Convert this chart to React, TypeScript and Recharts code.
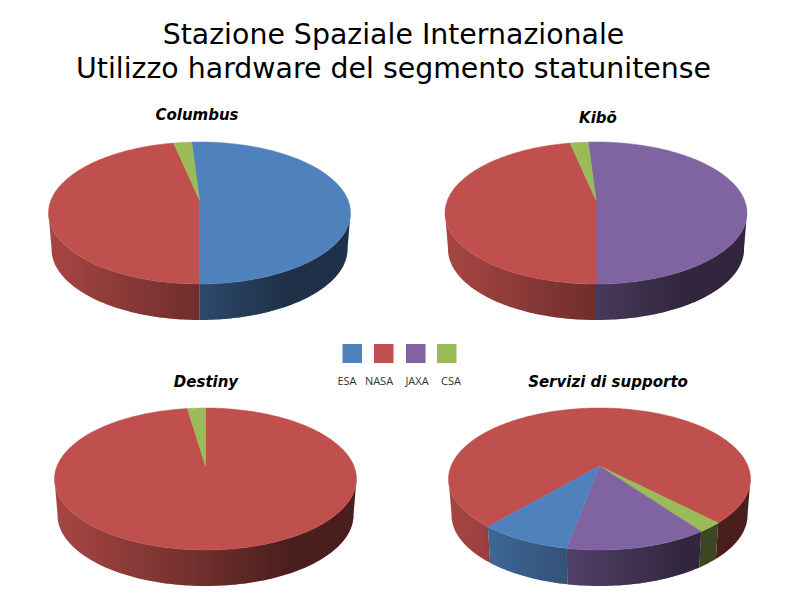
import React from "react"
import { PieChart, Pie, Cell } from "recharts"

const TITLE = ["Stazione Spaziale Internazionale", "Utilizzo hardware del segmento statunitense"]
const AGENCIES = ["ESA", "NASA", "JAXA", "CSA"]
const COLORS: Record<string, string> = {
    ESA: "#4F81BD",
    NASA: "#C0504D",
    JAXA: "#8064A2",
    CSA: "#9BBB59",
}

// percentuali
const columbus = [
    { name: "ESA", value: 51 },
    { name: "NASA", value: 46.7 },
    { name: "CSA", value: 2.3 },
]
const kibo = [
    { name: "JAXA", value: 51 },
    { name: "NASA", value: 46.7 },
    { name: "CSA", value: 2.3 },
]
const destiny = [
    { name: "NASA", value: 97.7 },
    { name: "CSA", value: 2.3 },
]
const servizi = [
    { name: "NASA", value: 76.6 },
    { name: "CSA", value: 2.3 },
    { name: "JAXA", value: 12.8 },
    { name: "ESA", value: 8.3 },
]

const PANELS = [
    { title: "Columbus", data: columbus, cx: 199.5, cy: 213, first: -3.6, tx: 197, ty: 120 },
    { title: "Kibō", data: kibo, cx: 596, cy: 213, first: -3.6, tx: 598, ty: 123 },
    { title: "Destiny", data: destiny, cx: 205.5, cy: 479, first: 0, tx: 206, ty: 387 },
    { title: "Servizi di supporto", data: servizi, cx: 599.5, cy: 479, first: 220.3, tx: 608, ty: 387 },
]

const RX = 151
const RY = 71
const RX_BOTTOM = 148
const DEPTH = 36
// the pie is drawn in perspective: its centre sits 13px above the ellipse centre
const PERSP = -13 / RY
const K = Math.sqrt(1 - PERSP * PERSP)

// theta: degrees clockwise from the back of the pie
function project(theta: number) {
    const rad = (theta * Math.PI) / 180
    const u = Math.sin(rad)
    const v = -Math.cos(rad)
    const w = 1 + PERSP * v
    return { x: (u * K) / w, y: (v + PERSP) / w }
}

function sampleAngles(from: number, to: number) {
    const out: number[] = [from]
    for (let t = Math.ceil(from); t < to; t += 1) {
        if (t > from) out.push(t)
    }
    out.push(to)
    return out
}

function TopSlice(props: any) {
    const { cx, cy, startAngle, endAngle, fill } = props
    const rim = sampleAngles(90 - startAngle, 90 - endAngle).map(project)
    const pts = rim.map((p) => `${cx + RX * p.x},${cy + RY * p.y}`)
    const d = `M${cx},${cy + RY * PERSP} L${pts.join(" L")} Z`
    return <path d={d} fill={fill} stroke={fill} strokeWidth={0.5} />
}

function WallSlice(props: any) {
    const { cx, cy, startAngle, endAngle, fill, shadeId } = props
    // a slice can leave the front of the pie and come back, so keep separate runs
    const runs: { x: number; y: number }[][] = []
    let run: { x: number; y: number }[] = []
    for (const t of sampleAngles(90 - startAngle, 90 - endAngle)) {
        const p = project(t)
        if (p.y >= -0.02) {
            run.push(p)
        } else if (run.length) {
            runs.push(run)
            run = []
        }
    }
    if (run.length) runs.push(run)
    const d = runs
        .filter((r) => r.length > 1)
        .map((r) => {
            const upper = r.map((p) => `${cx + RX * p.x},${cy + RY * p.y}`)
            const lower = r
                .slice()
                .reverse()
                .map((p) => `${cx + RX_BOTTOM * p.x},${cy + DEPTH + RY * p.y}`)
            return `M${upper.join(" L")} L${lower.join(" L")} Z`
        })
        .join(" ")
    if (!d) return null
    return (
        <g>
            <path d={d} fill={fill} />
            <path d={d} fill={`url(#${shadeId})`} />
        </g>
    )
}

export default function App() {
    return (
        <div style={{ position: "absolute", left: 0, top: 0, width: 800, height: 600, background: "#fff" }}>
            <PieChart width={800} height={600} margin={{ top: 0, right: 0, bottom: 0, left: 0 }}>
                <defs>
                    {PANELS.map((p, i) => (
                        <linearGradient
                            key={p.title}
                            id={`shade-${i}`}
                            gradientUnits="userSpaceOnUse"
                            x1={p.cx - RX}
                            x2={p.cx + RX}
                            y1={0}
                            y2={0}
                        >
                            <stop offset="0%" stopColor="#000" stopOpacity={0.13} />
                            <stop offset="50%" stopColor="#000" stopOpacity={0.43} />
                            <stop offset="78%" stopColor="#000" stopOpacity={0.62} />
                            <stop offset="100%" stopColor="#000" stopOpacity={0.62} />
                        </linearGradient>
                    ))}
                </defs>
                {PANELS.map((p, i) => (
                    <Pie
                        key={`wall-${p.title}`}
                        data={p.data}
                        dataKey="value"
                        cx={p.cx}
                        cy={p.cy}
                        innerRadius={0}
                        outerRadius={RX}
                        startAngle={90 - p.first}
                        endAngle={90 - p.first - 360}
                        stroke="none"
                        isAnimationActive={false}
                        shape={(s: any) => <WallSlice {...s} shadeId={`shade-${i}`} />}
                    >
                        {p.data.map((d) => (
                            <Cell key={d.name} fill={COLORS[d.name]} />
                        ))}
                    </Pie>
                ))}
                {PANELS.map((p) => (
                    <Pie
                        key={`top-${p.title}`}
                        data={p.data}
                        dataKey="value"
                        cx={p.cx}
                        cy={p.cy}
                        innerRadius={0}
                        outerRadius={RX}
                        startAngle={90 - p.first}
                        endAngle={90 - p.first - 360}
                        stroke="none"
                        isAnimationActive={false}
                        shape={(s: any) => <TopSlice {...s} />}
                    >
                        {p.data.map((d) => (
                            <Cell key={d.name} fill={COLORS[d.name]} />
                        ))}
                    </Pie>
                ))}
            </PieChart>
            <svg width={800} height={600} style={{ position: "absolute", left: 0, top: 0, pointerEvents: "none" }}>
                <g fontFamily="DejaVu Sans" fontSize={28.4} textAnchor="middle" fill="#000">
                    <text x={393.5} y={44}>{TITLE[0]}</text>
                    <text x={393.5} y={78}>{TITLE[1]}</text>
                </g>
                {PANELS.map((p) => (
                    <text
                        key={p.title}
                        x={p.tx}
                        y={p.ty}
                        textAnchor="middle"
                        fontFamily="DejaVu Sans"
                        fontSize={15}
                        fontWeight="bold"
                        fontStyle="italic"
                        fill="#000"
                    >
                        {p.title}
                    </text>
                ))}
                {AGENCIES.map((name, i) => (
                    <g key={name}>
                        <rect x={[342.5, 374, 406, 437][i]} y={344} width={19.5} height={19} fill={COLORS[name]} />
                        <text
                            x={[347, 379, 417, 451][i]}
                            y={385}
                            textAnchor="middle"
                            fontFamily="Open Sans"
                            fontSize={11}
                            fill="#333"
                        >
                            {name}
                        </text>
                    </g>
                ))}
            </svg>
        </div>
    )
}
